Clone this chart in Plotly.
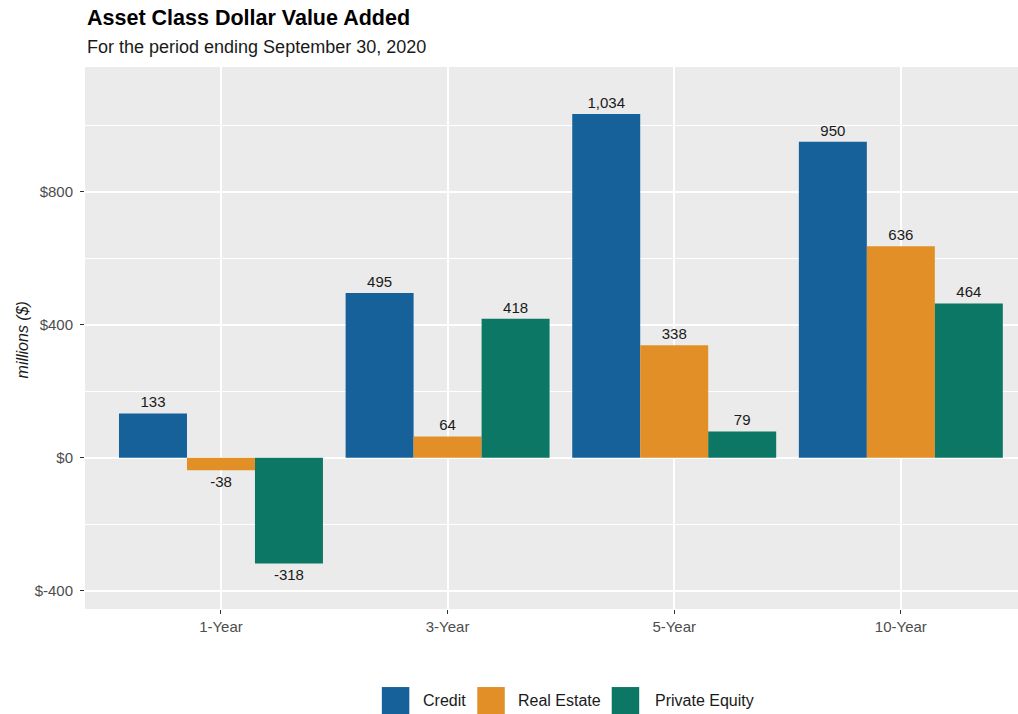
import plotly.graph_objects as go

# ---- data ----
periods = ["1-Year", "3-Year", "5-Year", "10-Year"]
credit = [133, 495, 1034, 950]
real_estate = [-38, 64, 338, 636]
private_equity = [-318, 418, 79, 464]
series_names = ["Credit", "Real Estate", "Private Equity"]
series_colors = ["#17619b", "#e28f27", "#0d7765"]
y_tickvals = [-400, 0, 400, 800]
y_ticktext = ["$-400", "$0", "$400", "$800"]

title_text = "Asset Class Dollar Value Added"
subtitle_text = "For the period ending September 30, 2020"
y_title = "millions ($)"

# ---- layout geometry (pixels) ----
W, H = 1018, 714
L, R = 84.5, 0
T, B = 67.4, 105.2
PW, PH = W - L - R, H - T - B

# legend key left edges (px) and text left edges (px)
legend_key_x = [381.5, 477.0, 611.5]
legend_text_x = [420.5, 516.0, 652.5]
legend_key_size = 27.5
legend_cy = 700.5


def px_x(x):
    return (x - L) / PW


def px_y(y):
    return (H - B - y) / PH


FONT = "Liberation Sans, Arial, sans-serif"

fig = go.Figure()
for name, vals, col in zip(series_names, [credit, real_estate, private_equity], series_colors):
    fig.add_trace(go.Bar(
        name=name, x=periods, y=vals,
        marker=dict(color=col, line=dict(width=0)),
        texttemplate="%{y:,}", textposition="outside",
        textfont=dict(size=15, color="#1a1a1a", family=FONT),
        constraintext="none", cliponaxis=False,
        hoverinfo="x+y+name", showlegend=False,
    ))

annotations = [
    dict(text="<b>" + title_text + "</b>", xref="paper", yref="paper",
         x=px_x(84), y=px_y(18), xanchor="left", yanchor="middle", showarrow=False,
         font=dict(size=21.5, color="#000000", family=FONT)),
    dict(text=subtitle_text, xref="paper", yref="paper",
         x=px_x(84), y=px_y(47), xanchor="left", yanchor="middle", showarrow=False,
         font=dict(size=18, color="#1a1a1a", family=FONT)),
    dict(text="<i>" + y_title + "</i>", xref="paper", yref="paper",
         x=px_x(22), y=px_y(340), xanchor="center", yanchor="middle", showarrow=False,
         textangle=-90, font=dict(size=16, color="#1a1a1a", family=FONT)),
]
shapes = []
for name, col, kx, tx in zip(series_names, series_colors, legend_key_x, legend_text_x):
    shapes.append(dict(type="rect", xref="paper", yref="paper",
                       x0=px_x(kx), x1=px_x(kx + legend_key_size),
                       y0=px_y(legend_cy - legend_key_size / 2), y1=px_y(legend_cy + legend_key_size / 2),
                       fillcolor=col, line=dict(width=0), layer="above"))
    annotations.append(dict(text=name, xref="paper", yref="paper",
                            x=px_x(tx), y=px_y(legend_cy), xanchor="left", yanchor="middle",
                            showarrow=False, font=dict(size=16, color="#1a1a1a", family=FONT)))

fig.update_layout(
    width=W, height=H,
    margin=dict(l=L, r=R, t=T, b=B, pad=0),
    paper_bgcolor="white", plot_bgcolor="#ebebeb",
    barmode="group", bargap=0.1, bargroupgap=0,
    font=dict(family=FONT, size=15, color="#4d4d4d"),
    showlegend=False,
    xaxis=dict(
        range=[-0.6, 3.517], showgrid=True, gridcolor="white", gridwidth=1.6,
        ticks="outside", ticklen=4, tickwidth=1.1, tickcolor="#333333",
        tickfont=dict(size=15, color="#4d4d4d"), zeroline=False, showline=False,
        fixedrange=True,
    ),
    yaxis=dict(
        range=[-455, 1175], tickvals=y_tickvals, ticktext=y_ticktext,
        showgrid=True, gridcolor="white", gridwidth=1.6,
        minor=dict(dtick=200, tick0=0, showgrid=True, gridcolor="white", gridwidth=0.8),
        ticks="outside", ticklen=4, tickwidth=1.1, tickcolor="#333333",
        tickfont=dict(size=15, color="#4d4d4d"), zeroline=False, showline=False,
        ticklabelstandoff=4, fixedrange=True,
    ),
    annotations=annotations,
    shapes=shapes,
)

fig.write_html("out.html", config={"displayModeBar": False},
               post_script="document.body.style.margin='0px';document.body.style.overflow='hidden';")
